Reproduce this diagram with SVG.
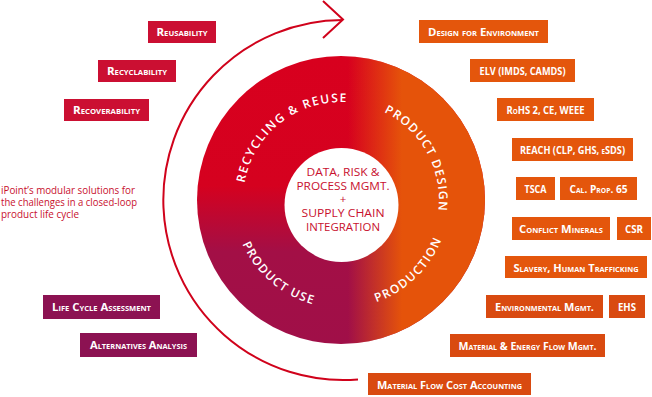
<svg xmlns="http://www.w3.org/2000/svg" xmlns:xlink="http://www.w3.org/1999/xlink" width="652" height="397" viewBox="0 0 652 397">
<style>
.bt{font-family:"Open Sans","Noto Sans",sans-serif;font-weight:700;font-size:10.5px;fill:#fff;font-variant:small-caps;text-anchor:middle}
.red{fill:#cb0f32}
.wine{fill:#8c1252}
.or{fill:#e4560c}
.or2{fill:#d94a10}
.ring{font-family:"Open Sans","Noto Sans",sans-serif;font-weight:600;font-size:12px;fill:#fff}
.ctr{font-family:"Open Sans","Noto Sans",sans-serif;font-weight:500;font-size:11.5px;fill:#c8102e;text-anchor:middle}
.desc{font-family:"Open Sans","Noto Sans",sans-serif;font-size:10.5px;fill:#c8102e}
</style>
<defs>
<linearGradient id="gV" gradientUnits="userSpaceOnUse" x1="0" y1="56" x2="0" y2="344">
<stop offset="0" stop-color="#d8001e"/>
<stop offset="0.45" stop-color="#d5011f"/>
<stop offset="0.68" stop-color="#a30f46"/>
<stop offset="1" stop-color="#a00f48"/>
</linearGradient>
<linearGradient id="gH" gradientUnits="userSpaceOnUse" x1="348" y1="0" x2="402" y2="0">
<stop offset="0" stop-color="#e5530a" stop-opacity="0"/>
<stop offset="1" stop-color="#e5530a" stop-opacity="1"/>
</linearGradient>
<path id="pTop" d="M 244.49 217.02 A 98 98 0 1 1 433.09 233.52"/>
<path id="pBot" d="M 234.64 181.25 A 108 108 0 1 0 442.49 163.06"/>
</defs>

<g id="cycle">
<circle cx="341" cy="200" r="144" fill="url(#gV)"/>
<circle cx="341" cy="200" r="144" fill="url(#gH)"/>
<circle cx="341.5" cy="205" r="57" fill="#fff"/>
<text class="ring"><textPath xlink:href="#pTop" startOffset="34.2" textLength="142" lengthAdjust="spacing">RECYCLING &amp; REUSE</textPath></text>
<text class="ring"><textPath xlink:href="#pTop" startOffset="215.5" textLength="119.7" lengthAdjust="spacing">PRODUCT DESIGN</textPath></text>
<text class="ring"><textPath xlink:href="#pBot" startOffset="64.1" textLength="95.2" lengthAdjust="spacing">PRODUCT USE</textPath></text>
<text class="ring"><textPath xlink:href="#pBot" startOffset="224.3" textLength="92.4" lengthAdjust="spacing">PRODUCTION</textPath></text>
</g>

<g id="center">
<text class="ctr" x="343" y="176" textLength="73" lengthAdjust="spacingAndGlyphs">DATA, RISK &amp;</text>
<text class="ctr" x="343" y="190" textLength="93" lengthAdjust="spacingAndGlyphs">PROCESS MGMT.</text>
<text class="ctr" x="343" y="203">+</text>
<text class="ctr" x="343" y="217" textLength="83" lengthAdjust="spacingAndGlyphs">SUPPLY CHAIN</text>
<text class="ctr" x="343" y="231" textLength="74" lengthAdjust="spacingAndGlyphs">INTEGRATION</text>
</g>

<g id="connectors">
<path d="M 343 20 A 180 180 0 1 0 358 379.4" fill="none" stroke="#d0021b" stroke-width="2"/>
<polyline points="323,1 343,19.5 323,38" fill="none" stroke="#d0021b" stroke-width="2"/>
</g>

<g id="description">
<text class="desc" x="1" y="194" textLength="134" lengthAdjust="spacingAndGlyphs">iPoint’s modular solutions for</text>
<text class="desc" x="1" y="206" textLength="136" lengthAdjust="spacingAndGlyphs">the challenges in a closed-loop</text>
<text class="desc" x="1" y="217.5" textLength="78" lengthAdjust="spacingAndGlyphs">product life cycle</text>
</g>

<g id="reusability"><rect class="red" x="148" y="21" width="68" height="22"/><text class="bt" x="182" y="36" textLength="51" lengthAdjust="spacingAndGlyphs">Reusability</text></g>
<g id="recyclability"><rect class="red" x="98" y="60" width="78" height="22"/><text class="bt" x="137" y="75" textLength="60" lengthAdjust="spacingAndGlyphs">Recyclability</text></g>
<g id="recoverability"><rect class="red" x="64" y="99" width="85" height="22"/><text class="bt" x="106.5" y="114" textLength="67" lengthAdjust="spacingAndGlyphs">Recoverability</text></g>

<g id="lca"><rect class="wine" x="43" y="295" width="117" height="24"/><text class="bt" x="101.5" y="311" textLength="99" lengthAdjust="spacingAndGlyphs">Life Cycle Assessment</text></g>
<g id="alternatives"><rect class="wine" x="80" y="333" width="117" height="24"/><text class="bt" x="138.5" y="349" textLength="97" lengthAdjust="spacingAndGlyphs">Alternatives Analysis</text></g>

<g id="dfe"><rect class="or" x="419" y="20" width="129" height="23"/><text class="bt" x="483.5" y="36" textLength="111" lengthAdjust="spacingAndGlyphs">Design for Environment</text></g>
<g id="elv"><rect class="or" x="470" y="59" width="105" height="23"/><text class="bt" x="522.5" y="75" textLength="86" lengthAdjust="spacingAndGlyphs">ELV (IMDS, CAMDS)</text></g>
<g id="rohs"><rect class="or" x="497" y="98" width="97" height="23"/><text class="bt" x="545.5" y="114" textLength="78" lengthAdjust="spacingAndGlyphs">RoHS 2, CE, WEEE</text></g>
<g id="reach"><rect class="or" x="512" y="138" width="121" height="23"/><text class="bt" x="572.5" y="154" textLength="105" lengthAdjust="spacingAndGlyphs">REACH (CLP, GHS, eSDS)</text></g>
<g id="tsca"><rect class="or" x="516" y="177" width="39" height="23"/><text class="bt" x="535.5" y="193" textLength="22" lengthAdjust="spacingAndGlyphs">TSCA</text></g>
<g id="calprop"><rect class="or" x="560" y="177" width="77" height="23"/><text class="bt" x="598.5" y="193" textLength="58" lengthAdjust="spacingAndGlyphs">Cal. Prop. 65</text></g>
<g id="conflict"><rect class="or" x="512" y="217" width="98" height="23"/><text class="bt" x="561" y="233" textLength="84" lengthAdjust="spacingAndGlyphs">Conflict Minerals</text></g>
<g id="csr"><rect class="or" x="617" y="217" width="34" height="23"/><text class="bt" x="634" y="233" textLength="18" lengthAdjust="spacingAndGlyphs">CSR</text></g>
<g id="slavery"><rect class="or" x="505" y="256" width="142" height="22"/><text class="bt" x="576" y="271.5" textLength="125" lengthAdjust="spacingAndGlyphs">Slavery, Human Trafficking</text></g>
<g id="envmgmt"><rect class="or2" x="486" y="295" width="117" height="23"/><text class="bt" x="544.5" y="311" textLength="99" lengthAdjust="spacingAndGlyphs">Environmental Mgmt.</text></g>
<g id="ehs"><rect class="or2" x="609" y="295" width="36" height="23"/><text class="bt" x="627" y="311" textLength="18" lengthAdjust="spacingAndGlyphs">EHS</text></g>
<g id="mefm"><rect class="or2" x="450" y="334" width="155" height="23"/><text class="bt" x="527.5" y="350" textLength="138" lengthAdjust="spacingAndGlyphs">Material &amp; Energy Flow Mgmt.</text></g>
<g id="mfca"><rect class="or2" x="368" y="373" width="163" height="22"/><text class="bt" x="449.5" y="388.5" textLength="145" lengthAdjust="spacingAndGlyphs">Material Flow Cost Accounting</text></g>
</svg>
